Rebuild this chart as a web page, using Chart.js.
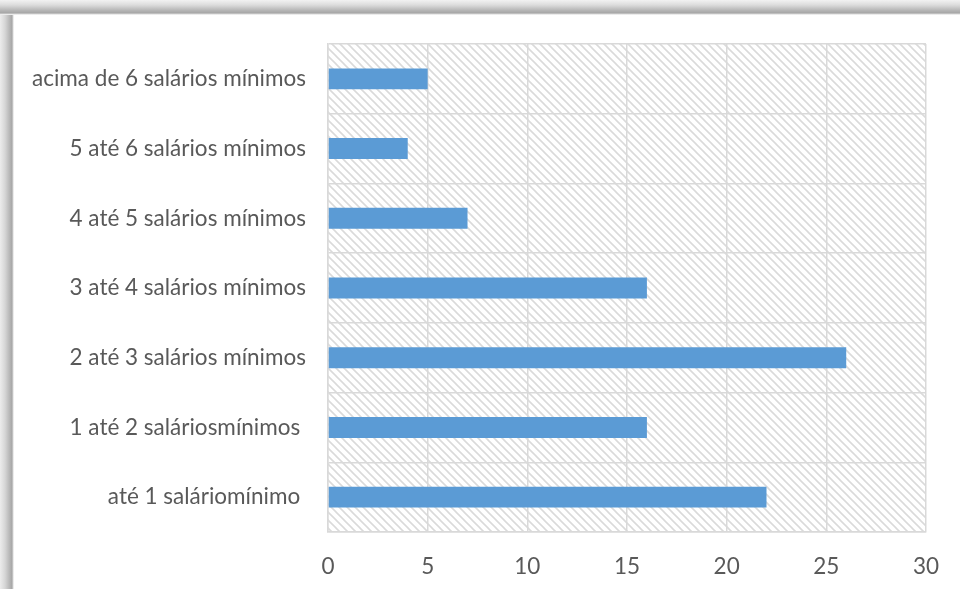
<!DOCTYPE html>
<html>
<head>
<meta charset="utf-8">
<script src="https://cdn.jsdelivr.net/npm/chart.js@4/dist/chart.umd.min.js"></script>
<style>
html,body{margin:0;padding:0;background:#fff;}
#wrap{position:relative;width:960px;height:589px;overflow:hidden;background:#fff;}
#shL{position:absolute;left:0;top:0;width:14px;height:589px;
 background:linear-gradient(to right,#ececec 0px,#d6d6d6 5px,#b4b4b4 10px,#a6a6a6 12px,#d8d8d8 13px,#fff 14px);}
#shT{position:absolute;left:0;top:0;width:960px;height:15px;
 background:linear-gradient(to bottom,#f2f2f2 0px,#dcdcdc 5px,#b8b8b8 10px,#a6a6a6 13px,#d8d8d8 14px,#fff 15px);}
#cv{position:absolute;left:0;top:0;}
</style>
</head>
<body>
<div id="wrap">
<div id="shL"></div>
<div id="shT"></div>
<canvas id="cv" width="960" height="589"></canvas>
</div>
<script>
const categories = [
  "acima de 6 salários mínimos",
  "5 até 6 salários mínimos",
  "4 até 5 salários mínimos",
  "3 até 4 salários mínimos",
  "2 até 3 salários mínimos",
  "1 até 2 saláriosmínimos ",
  "até 1 saláriomínimo "
];
const values = [5, 4, 7, 16, 26, 16, 22];
const xTicks = [0, 5, 10, 15, 20, 25, 30];

function makePattern(ctx){
  const c = document.createElement('canvas');
  c.width = 8; c.height = 8;
  const p = c.getContext('2d');
  p.fillStyle = '#ffffff';
  p.fillRect(0,0,8,8);
  p.strokeStyle = '#dadada';
  p.lineWidth = 1.6;
  p.beginPath();
  p.moveTo(-2,-2); p.lineTo(10,10);
  p.moveTo(-10,-2); p.lineTo(2,10);
  p.moveTo(6,-2); p.lineTo(18,10);
  p.stroke();
  return ctx.createPattern(c,'repeat');
}

const hatchPlugin = {
  id:'hatch',
  beforeDraw(chart){
    const {ctx, chartArea:a} = chart;
    ctx.save();
    ctx.fillStyle = makePattern(ctx);
    ctx.fillRect(a.left, a.top, a.right-a.left, a.bottom-a.top);
    ctx.restore();
  }
};

const font = {family:'Lato, "Open Sans", sans-serif', size:22.5};

new Chart(document.getElementById('cv'), {
  type:'bar',
  data:{
    labels: categories,
    datasets:[{
      data: values,
      backgroundColor:'#5b9bd5',
      borderWidth:0,
      barPercentage:0.3,
      categoryPercentage:1.0
    }]
  },
  plugins:[hatchPlugin],
  options:{
    indexAxis:'y',
    responsive:false,
    animation:false,
    layout:{padding:{left:0,right:32,top:44,bottom:0}},
    plugins:{legend:{display:false},tooltip:{enabled:false}},
    scales:{
      x:{
        min:0,max:30,
        afterBuildTicks(scale){ scale.ticks = xTicks.map(v=>({value:v})); },
        afterFit(scale){ scale.height = 57; },
        grid:{color:'#d9d9d9',lineWidth:1.5,drawTicks:false},
        border:{color:'#d9d9d9',width:1.5},
        ticks:{color:'#595959',font:font,padding:21}
      },
      y:{
        afterFit(scale){ scale.width = 328; },
        grid:{color:'#d9d9d9',lineWidth:1.5,drawTicks:false,offset:true},
        border:{color:'#d9d9d9',width:1.5},
        ticks:{color:'#595959',font:font,padding:22}
      }
    }
  }
});
</script>
</body>
</html>
